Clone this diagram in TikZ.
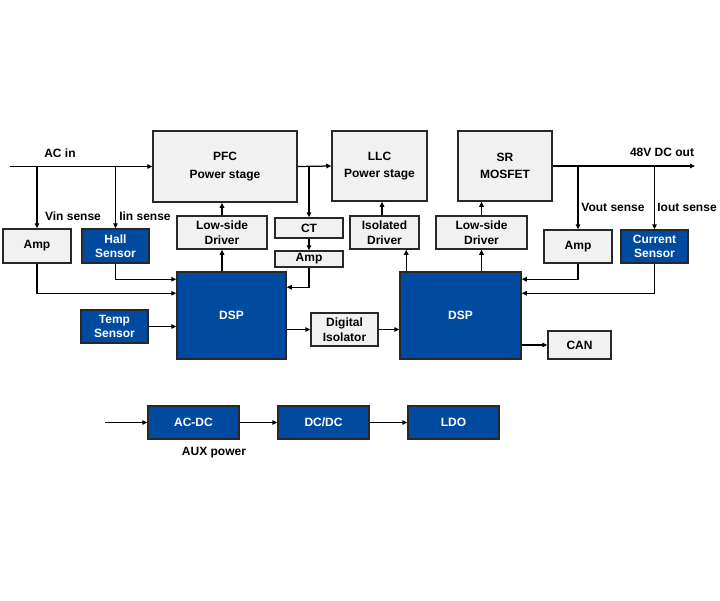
\documentclass[tikz,border=0pt]{standalone}
\usepackage{fontspec}
\setmainfont{Liberation Sans}
\usetikzlibrary{arrows.meta,calc}
\definecolor{dblue}{RGB}{0,75,160}
\definecolor{lgray}{RGB}{241,241,241}
\definecolor{edge}{RGB}{40,40,40}
\begin{document}
\begin{tikzpicture}[x=1pt,y=-1pt,
  every node/.style={font=\bfseries\fontsize{12}{14.5}\selectfont},
  gbox/.style={draw=edge,fill=lgray,line width=1.5pt,align=center,inner sep=0pt},
  bbox/.style={draw=edge,fill=dblue,text=white,line width=1.5pt,align=center,inner sep=0pt},
  arr/.style={line width=1.25pt,-{Triangle[length=5pt,width=4.5pt]}},
  lbl/.style={inner sep=0pt}]
\useasboundingbox (0,0) rectangle (720,600);
% top row
\node[gbox,minimum width=144pt,minimum height=71pt] (pfc) at (225,166.5) {PFC\\[3pt]Power stage};
\node[gbox,minimum width=95pt,minimum height=70pt] (llc) at (379.5,166) {LLC\\[3pt]Power stage};
\node[gbox,minimum width=94pt,minimum height=70pt] (sr) at (505,166) {SR\\[3pt]MOSFET};
% sensing row
\node[gbox,minimum width=68pt,minimum height=34pt] (amp1) at (37,246) {Amp};
\node[bbox,minimum width=67pt,minimum height=34pt] (hall) at (115.5,246) {Hall\\Sensor};
\node[gbox,minimum width=90pt,minimum height=33pt] (lsd1) at (222,232.5) {Low-side\\Driver};
\node[gbox,minimum width=68pt,minimum height=20pt] (ct) at (309,228) {CT};
\node[gbox,minimum width=68pt,minimum height=16pt] (amp2) at (309,259) {Amp};
\node[gbox,minimum width=69pt,minimum height=33pt] (iso) at (384.5,232.5) {Isolated\\Driver};
\node[gbox,minimum width=91pt,minimum height=33pt] (lsd2) at (481.5,232.5) {Low-side\\Driver};
\node[gbox,minimum width=68pt,minimum height=33pt] (amp3) at (578,246.5) {Amp};
\node[bbox,minimum width=67pt,minimum height=33pt] (cs) at (654.5,246.5) {Current\\Sensor};
% DSP row
\node[bbox,minimum width=109pt,minimum height=87pt] (dsp1) at (231.5,315.5) {DSP};
\node[bbox,minimum width=121pt,minimum height=87pt] (dsp2) at (460.5,315.5) {DSP};
\node[bbox,minimum width=67pt,minimum height=33pt] (temp) at (114.5,326.5) {Temp\\Sensor};
\node[gbox,minimum width=67pt,minimum height=33pt] (di) at (344.5,329.5) {Digital\\Isolator};
\node[gbox,minimum width=63pt,minimum height=28pt] (can) at (579.5,345) {CAN};
% aux row
\node[bbox,minimum width=91pt,minimum height=33pt] (acdc) at (193.5,422.5) {AC-DC};
\node[bbox,minimum width=91pt,minimum height=33pt] (dcdc) at (323.5,422.5) {DC/DC};
\node[bbox,minimum width=91pt,minimum height=33pt] (ldo) at (453.5,422.5) {LDO};
% labels
\node[lbl] (lacin) at (60,153) {AC in};
\node[lbl] (lvin) at (73,216) {Vin sense};
\node[lbl] (liin) at (145,216) {Iin sense};
\node[lbl] (lout) at (662,152) {48V DC out};
\node[lbl] (lvout) at (613,207) {Vout sense};
\node[lbl] (liout) at (687,207) {Iout sense};
\node[lbl] (laux) at (214,453) {AUX power};
% coordinates
\coordinate (acin) at (10,166.5);
\coordinate (dcout) at (695,166);
\coordinate (auxin) at (105,422.5);
% AC input
\draw[arr] (acin) -- (pfc.west);
\draw[arr] (acin -| amp1.north) -- (amp1.north);
\draw[arr] (acin -| hall.north) -- (hall.north);
% PFC to LLC and CT
\draw[arr] (pfc.east) -- (llc.west);
\draw[arr] (pfc.east -| ct.north) -- (ct.north);
\draw[arr] (ct.south) -- (amp2.north);
\draw[arr] (amp2.south) |- ([yshift=-16pt]dsp1.north east);
% sensors to DSP1
\draw[arr] (hall.south) |- ([yshift=-8pt]dsp1.north west);
\draw[arr] (amp1.south) |- ([yshift=-22pt]dsp1.north west);
\draw[arr] (temp.east) -- (temp.east -| dsp1.west);
% drivers
\draw[arr] (lsd1.south |- dsp1.north) -- (lsd1.south);
\draw[arr] (lsd1.north) -- (lsd1.north |- pfc.south);
\draw[arr] ([xshift=7pt]dsp2.north west) -- ([xshift=7pt]dsp2.north west |- iso.south);
\draw[arr] ([xshift=-2.5pt]iso.north) -- ([xshift=-2.5pt]iso.north |- llc.south);
\draw[arr] (lsd2.south |- dsp2.north) -- (lsd2.south);
\draw[arr] (lsd2.north) -- (lsd2.north |- sr.south);
% DSP links
\draw[arr] (di.west -| dsp1.east) -- (di.west);
\draw[arr] (di.east) -- (di.east -| dsp2.west);
\draw[arr] (can.west -| dsp2.east) -- (can.west);
% output side
\draw[arr] (sr.east |- dcout) -- (dcout);
\draw[arr] (dcout -| amp3.north) -- (amp3.north);
\draw[arr] (dcout -| cs.north) -- (cs.north);
\draw[arr] (amp3.south) |- ([yshift=-8pt]dsp2.north east);
\draw[arr] (cs.south) |- ([yshift=-22pt]dsp2.north east);
% aux
\draw[arr] (auxin) -- (acdc.west);
\draw[arr] (acdc.east) -- (dcdc.west);
\draw[arr] (dcdc.east) -- (ldo.west);
\end{tikzpicture}
\end{document}
